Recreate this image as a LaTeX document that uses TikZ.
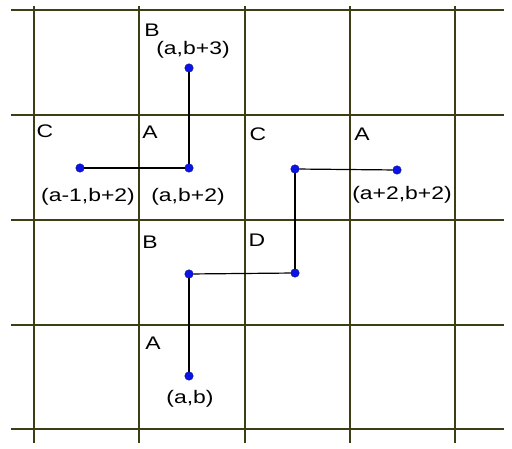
\documentclass[tikz,border=0pt]{standalone}
\usepackage{fontspec}
\setmainfont[FakeStretch=1.26]{Liberation Sans}
\definecolor{gridolive}{RGB}{62,62,22}
\definecolor{ptblue}{RGB}{10,20,230}

\begin{document}
\begin{tikzpicture}[x=1pt,y=-1pt]
	\tikzset{gridline/.style={draw=gridolive,line width=1.2pt},
		pt/.style={circle,fill=ptblue,draw=ptblue!60!black,line width=0.4pt,inner sep=0pt,minimum size=8.5pt},
		lbl/.style={inner sep=0pt,font=\fontsize{18.2}{21}\selectfont},
		seg/.style={draw=black,line width=1.2pt}}
	\useasboundingbox (0,0) rectangle (512,449);
	% grid
	\foreach \x in {34,139,245,350,455} \draw[gridline] (\x,6) -- (\x,443);
	\foreach \y in {10,115,220,325,429} \draw[gridline] (11,\y) -- (504,\y);
	% points
	\node[pt] (top) at (189,68) {};
	\node[pt] (mid) at (189,168) {};
	\node[pt] (left) at (80,168) {};
	\node[pt] (cpt) at (295,169) {};
	\node[pt] (right) at (397,170) {};
	\node[pt] (dpt) at (295,273) {};
	\node[pt] (bpt) at (189,274) {};
	\node[pt] (start) at (189,376) {};
	% paths
	\draw[seg] (top) -- (mid);
	\draw[seg] (mid) -- (left);
	\draw[seg] (start) -- (bpt);
	\draw[seg] (bpt) -- (dpt);
	\draw[seg] (dpt) -- (cpt);
	\draw[seg] (cpt) -- (right);
	% labels
	\node[lbl] (lbB1) at (152,30) {B};
	\node[lbl] (lbtop) at (193,50) {(a,b+3)};
	\node[lbl] (lbC1) at (45,131) {C};
	\node[lbl] (lbA1) at (150,132) {A};
	\node[lbl] (lbC2) at (258,134) {C};
	\node[lbl] (lbA2) at (362,134) {A};
	\node[lbl] (lbleft) at (88,197) {(a-1,b+2)};
	\node[lbl] (lbmid) at (188,197) {(a,b+2)};
	\node[lbl] (lbright) at (402,195) {(a+2,b+2)};
	\node[lbl] (lbB2) at (150,242) {B};
	\node[lbl] (lbD) at (257,240) {D};
	\node[lbl] (lbA3) at (153,343) {A};
	\node[lbl] (lbstart) at (190,399) {(a,b)};
\end{tikzpicture}
\end{document}
